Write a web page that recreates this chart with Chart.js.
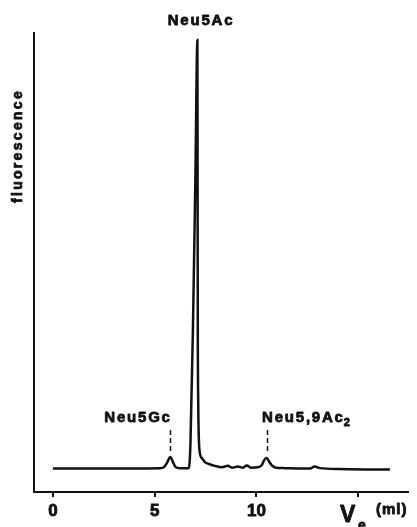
<!DOCTYPE html>
<html lang="en">
<head>
    <meta charset="UTF-8">
    <title>Neu5Ac fluorescence profile</title>
    <script src="https://cdn.jsdelivr.net/npm/chart.js"></script>
    <style>
        body { margin: 0; background: #fff; }
    </style>
</head>
<body>
    <canvas id="hplcChart" width="417" height="527"></canvas>

    <script>
        // elution volume (ml) and fluorescence (arbitrary units, 0-100)
        const ve = [0, 2.3, 5.26, 5.45, 5.6, 5.77, 5.9, 6.04, 6.24, 6.68, 6.76, 6.88, 7.0, 7.1,
            7.11, 7.12, 7.14, 7.2, 7.32, 7.47, 7.67, 7.96, 8.3, 8.6, 8.8, 9.09, 9.34, 9.53, 9.73,
            10.07, 10.27, 10.39, 10.5, 10.61, 10.76, 10.96, 11.4, 12.14, 12.63, 12.87, 13.12,
            14.1, 15.58, 16.56];
        const fluo = [5.1, 5.1, 5.2, 5.4, 6.3, 7.6, 6.5, 5.4, 5.2, 5.2, 10.7, 35.3, 68, 98.5,
            68, 35.3, 20, 9.2, 7.4, 6.5, 6.1, 5.7, 5.4, 5.7, 5.3, 5.55, 5.3, 5.8, 5.3,
            5.4, 5.9, 7.0, 7.4, 6.75, 5.8, 5.3, 5.2, 5.1, 5.1, 5.55, 5.2,
            5.0, 4.9, 4.9];

        const veTicks = [0, 5, 10, 15];
        const veTickLabels = ['0', '5', '10', ''];

        // peak labels with dashed markers
        const minorPeaks = ['Neu5Gc', 'Neu5,9Ac'];
        const minorPeakVe = [5.77, 10.5];
        const mainPeak = 'Neu5Ac';

        const FONT = '"Liberation Sans", Arial, sans-serif';

        // draw heavy text (fill + thin stroke), like the old bold typeface
        function heavyText(ctx, txt, x, y) {
            ctx.fillText(txt, x, y);
            ctx.strokeText(txt, x, y);
        }

        const labelsPlugin = {
            id: 'peakLabels',
            afterDraw(chart) {
                const ctx = chart.ctx;
                const x = chart.scales.x;
                const y = chart.scales.y;
                ctx.save();
                ctx.fillStyle = '#111';
                ctx.strokeStyle = '#111';

                // dashed markers above small peaks
                ctx.lineWidth = 1.5;
                ctx.setLineDash([5, 3]);
                minorPeakVe.forEach(v => {
                    const px = Math.round(x.getPixelForValue(v)) + 0.5;
                    ctx.beginPath();
                    ctx.moveTo(px, y.getPixelForValue(13.5));
                    ctx.lineTo(px, y.getPixelForValue(8.7));
                    ctx.stroke();
                });
                ctx.setLineDash([]);

                ctx.lineWidth = 0.8;
                ctx.lineJoin = 'round';
                ctx.font = 'bold 15px ' + FONT;
                ctx.letterSpacing = '1.8px';
                ctx.textBaseline = 'middle';
                ctx.textAlign = 'center';
                heavyText(ctx, mainPeak, 201, 21);
                heavyText(ctx, minorPeaks[0], 138, 418);

                ctx.textAlign = 'left';
                heavyText(ctx, minorPeaks[1], 262, 418);
                const w = ctx.measureText(minorPeaks[1]).width;
                ctx.font = 'bold 11px ' + FONT;
                ctx.letterSpacing = '0px';
                heavyText(ctx, '2', 262 + w - 1, 423);

                // axis titles
                ctx.font = 'bold 23px ' + FONT;
                ctx.textBaseline = 'alphabetic';
                heavyText(ctx, 'V', 340, 522);
                ctx.font = 'bold 14px ' + FONT;
                heavyText(ctx, 'e', 358, 530);
                ctx.font = 'bold 15px ' + FONT;
                ctx.letterSpacing = '1px';
                heavyText(ctx, '(ml)', 376, 514);

                ctx.translate(18, 146);
                ctx.rotate(-Math.PI / 2);
                ctx.font = 'bold 14px ' + FONT;
                ctx.letterSpacing = '2.3px';
                ctx.textAlign = 'center';
                ctx.textBaseline = 'middle';
                heavyText(ctx, 'fluorescence', 0, 0);
                ctx.restore();
            }
        };

        new Chart(document.getElementById('hplcChart'), {
            type: 'line',
            data: {
                datasets: [{
                    data: ve.map((v, i) => ({ x: v, y: fluo[i] })),
                    borderColor: '#111',
                    borderWidth: 2.5,
                    pointRadius: 0,
                    cubicInterpolationMode: 'monotone',
                    fill: false
                }]
            },
            options: {
                responsive: false,
                animation: false,
                layout: { padding: { top: 33, right: 9, left: 0, bottom: 0 } },
                plugins: {
                    legend: { display: false },
                    tooltip: { enabled: false }
                },
                scales: {
                    x: {
                        type: 'linear',
                        min: -0.93,
                        max: 17.45,
                        afterFit: s => { s.height = 35; },
                        afterBuildTicks: s => { s.ticks = veTicks.map(v => ({ value: v })); },
                        grid: {
                            drawOnChartArea: false,
                            drawTicks: true,
                            tickLength: 5,
                            color: '#111',
                            lineWidth: 2
                        },
                        border: { display: true, color: '#111', width: 2 },
                        ticks: {
                            color: '#111',
                            textStrokeColor: '#111',
                            textStrokeWidth: 0.8,
                            padding: 4,
                            maxRotation: 0,
                            font: { family: FONT, size: 17, weight: 'bold' },
                            callback: (v, i) => veTickLabels[i]
                        }
                    },
                    y: {
                        min: 0,
                        max: 100,
                        afterFit: s => { s.width = 34; },
                        grid: { drawOnChartArea: false, drawTicks: false },
                        border: { display: true, color: '#111', width: 2 },
                        ticks: { display: false }
                    }
                }
            },
            plugins: [labelsPlugin]
        });
    </script>
</body>
</html>
